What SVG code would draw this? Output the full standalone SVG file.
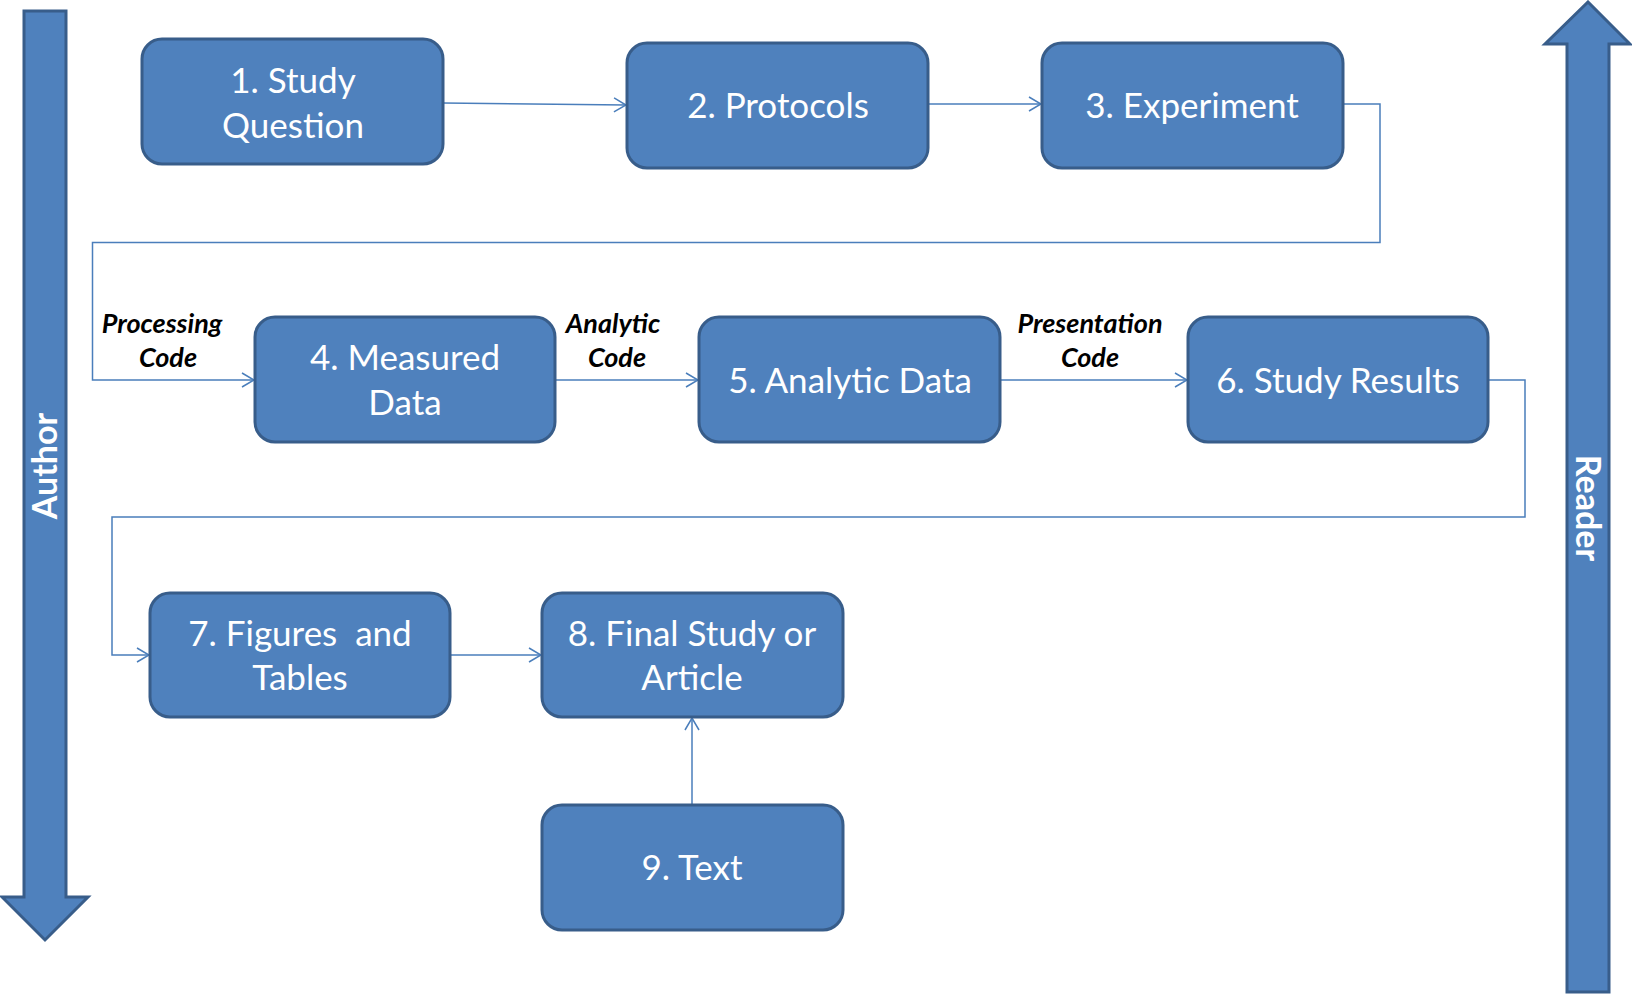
<svg xmlns="http://www.w3.org/2000/svg" width="1632" height="995" viewBox="0 0 1632 995">
<style>
.box{fill:#4F81BD;stroke:#385D8A;stroke-width:3}
.bt{font-family:Lato,"Liberation Sans",sans-serif;font-size:35px;fill:#fff;text-anchor:middle}
.lab{font-family:Lato,"Liberation Sans",sans-serif;font-size:27px;font-weight:bold;font-style:italic;fill:#000;text-anchor:middle}
.side{font-family:Lato,"Liberation Sans",sans-serif;font-size:34px;font-weight:bold;fill:#fff;text-anchor:middle}
.con{fill:none;stroke:#4A7EBB;stroke-width:1.5}
</style>
<defs>
<marker id="ah" viewBox="0 0 14 16" refX="13" refY="8" markerWidth="14" markerHeight="16" markerUnits="userSpaceOnUse" orient="auto">
<path d="M1,1 L13,8 L1,15" fill="none" stroke="#4A7EBB" stroke-width="1.5"/>
</marker>
</defs>
<g id="author">
<polygon class="box" points="24,11 66,11 66,897 88,897 45,940 2,897 24,897"/>
<text class="side" transform="translate(57,466) rotate(-90)">Author</text>
</g>
<g id="reader">
<polygon class="box" points="1567,992 1609,992 1609,44 1630,44 1588,2 1545,44 1567,44"/>
<text class="side" transform="translate(1576,508) rotate(90)">Reader</text>
</g>
<g id="connectors">
<path class="con" d="M443,103 L626,105" marker-end="url(#ah)"/>
<path class="con" d="M928,104 L1041,104" marker-end="url(#ah)"/>
<path class="con" d="M1343,104 H1380 V242.5 H92.5 V380 H254" marker-end="url(#ah)"/>
<path class="con" d="M555,380 H698" marker-end="url(#ah)"/>
<path class="con" d="M1000,380 H1187" marker-end="url(#ah)"/>
<path class="con" d="M1488,380 H1525 V517 H112 V655 H149" marker-end="url(#ah)"/>
<path class="con" d="M450,655 H541" marker-end="url(#ah)"/>
<path class="con" d="M692,805 V718" marker-end="url(#ah)"/>
</g>
<g id="labels">
<text class="lab" x="162" y="333">Processing</text>
<text class="lab" x="168" y="367">Code</text>
<text class="lab" x="613" y="333">Analytic</text>
<text class="lab" x="617" y="367">Code</text>
<text class="lab" x="1090" y="333">Presentation</text>
<text class="lab" x="1090" y="367">Code</text>
</g>
<g id="n1"><rect class="box" x="142" y="39" width="301" height="125" rx="20"/>
<text class="bt" x="293" y="93">1. Study</text><text class="bt" x="293" y="138">Question</text></g>
<g id="n2"><rect class="box" x="627" y="43" width="301" height="125" rx="20"/>
<text class="bt" x="778" y="118">2. Protocols</text></g>
<g id="n3"><rect class="box" x="1042" y="43" width="301" height="125" rx="20"/>
<text class="bt" x="1192" y="118">3. Experiment</text></g>
<g id="n4"><rect class="box" x="255" y="317" width="300" height="125" rx="20"/>
<text class="bt" x="405" y="370">4. Measured</text><text class="bt" x="405" y="415">Data</text></g>
<g id="n5"><rect class="box" x="699" y="317" width="301" height="125" rx="20"/>
<text class="bt" x="850" y="393">5. Analytic Data</text></g>
<g id="n6"><rect class="box" x="1188" y="317" width="300" height="125" rx="20"/>
<text class="bt" x="1338" y="393">6. Study Results</text></g>
<g id="n7"><rect class="box" x="150" y="593" width="300" height="124" rx="20"/>
<text class="bt" x="300" y="646" xml:space="preserve">7. Figures  and</text><text class="bt" x="300" y="690">Tables</text></g>
<g id="n8"><rect class="box" x="542" y="593" width="301" height="124" rx="20"/>
<text class="bt" x="692" y="646">8. Final Study or</text><text class="bt" x="692" y="690">Article</text></g>
<g id="n9"><rect class="box" x="542" y="805" width="301" height="125" rx="20"/>
<text class="bt" x="692" y="880">9. Text</text></g>
</svg>
